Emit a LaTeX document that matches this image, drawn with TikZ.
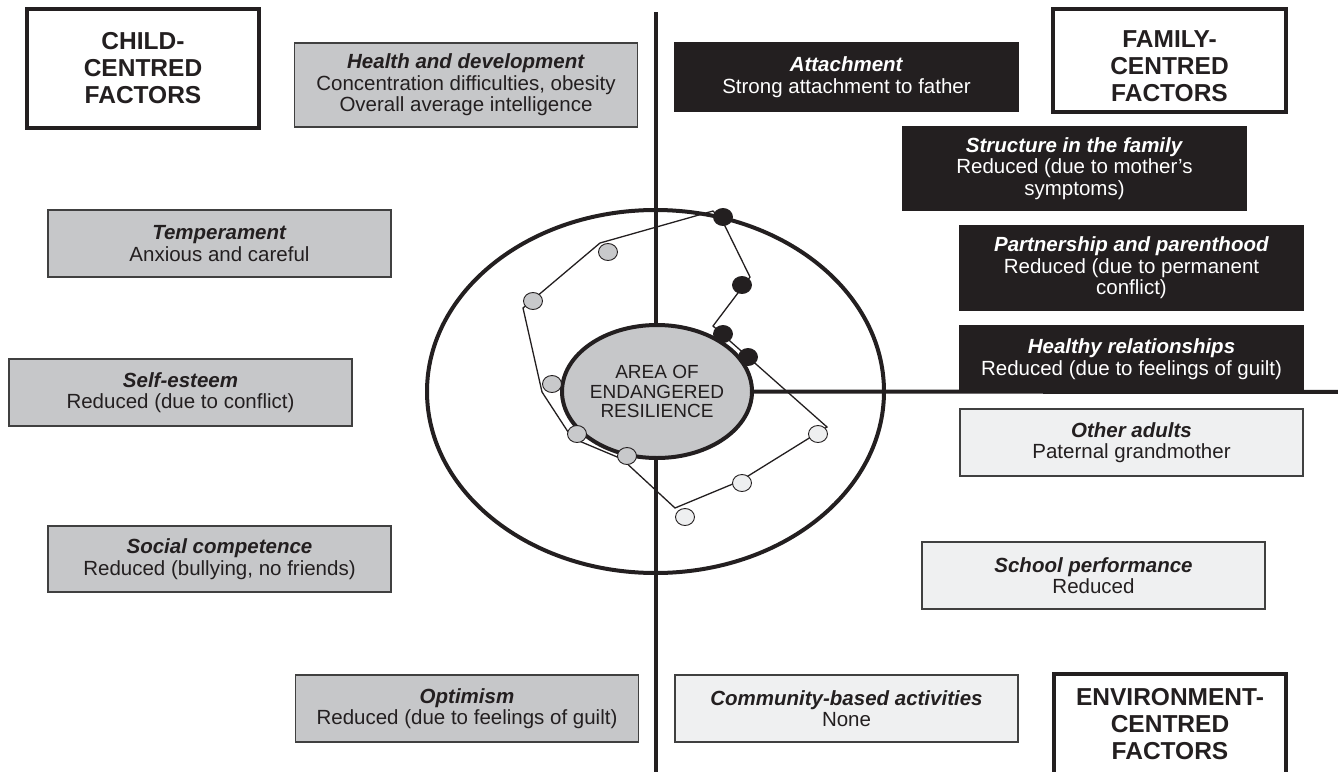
\documentclass[tikz,border=0pt]{standalone}
\usepackage{fontspec}
\setmainfont{Liberation Sans}
\usetikzlibrary{shapes.geometric}
\definecolor{ink}{HTML}{231F20}
\definecolor{boxgray}{HTML}{C6C7C9}
\definecolor{boxlight}{HTML}{EFF0F1}
\definecolor{edgegray}{HTML}{404040}
\definecolor{dotgray}{HTML}{C8C9CB}
\definecolor{dotlight}{HTML}{EEEFF0}
\newcommand\hd[1]{\textbf{\textit{#1}}}
\tikzset{
  infobox/.style={draw=edgegray, line width=1.4pt, inner sep=0pt, align=center, text=ink,
    font=\fontsize{20.5}{21.5}\selectfont, minimum width=343pt},
  graybox/.style={infobox, fill=boxgray},
  darkbox/.style={infobox, fill=ink, draw=ink, text=white},
  lightbox/.style={infobox, fill=boxlight},
  factorbox/.style={draw=ink, line width=4pt, fill=white, inner sep=0pt},
  factortext/.style={align=center, text=ink, inner sep=0pt, font=\fontsize{24.5}{27}\selectfont\bfseries},
  axisline/.style={draw=ink, line width=4pt},
  polyline/.style={draw=ink, line width=1.3pt, line join=miter},
  dot/.style={ellipse, draw=ink, line width=0.9pt, minimum width=19pt, minimum height=17pt, inner sep=0pt},
  graydot/.style={dot, fill=dotgray},
  blackdot/.style={dot, fill=ink},
  whitedot/.style={dot, fill=dotlight},
}
\begin{document}
\begin{tikzpicture}[x=1pt,y=-1pt]
\useasboundingbox (0,0) rectangle (1338,771);
\clip (0,0) rectangle (1338,771);

% axes
\coordinate (vtop) at (656,12);
\coordinate (vbot) at (656,780);
\coordinate (hend) at (1345,392);
\node[ellipse, draw=ink, line width=4pt, minimum width=457pt, minimum height=363pt, inner sep=0pt] (ring) at (655.5,391.5) {};
\draw[axisline] (vtop) -- (vbot);

% core
\node[ellipse, draw=ink, line width=4pt, fill=boxgray, minimum width=190pt, minimum height=133pt, inner sep=0pt,
  align=center, text=ink, font=\fontsize{19}{19.5}\selectfont] (core) at (657,391.5) {AREA OF\\ENDANGERED\\RESILIENCE};
\draw[axisline] (core.east) -- (hend);

% profile polygon
\coordinate (p1) at (713,211);
\coordinate (p2) at (600,243);
\coordinate (p3) at (523,308);
\coordinate (p4) at (542,392);
\coordinate (p5) at (572,438);
\coordinate (p6) at (622,459);
\coordinate (p7) at (675,508);
\coordinate (p8) at (740,481);
\coordinate (p9) at (827,427);
\coordinate (p10) at (713,326);
\coordinate (p11) at (750,277);
\coordinate (p12) at (722,220);
\draw[polyline] (p1) -- (p2) -- (p3) -- (p4) -- (p5) -- (p6) -- (p7) -- (p8) -- (p9) -- (p10) -- (p11) -- (p12) -- cycle;

% markers
\node[graydot] (g1) at (608,252) {};
\node[graydot] (g2) at (533,301) {};
\node[graydot] (g3) at (552,384) {};
\node[graydot] (g4) at (577,434) {};
\node[graydot] (g5) at (627,456) {};
\node[blackdot] (b1) at (723,217) {};
\node[blackdot] (b2) at (742,285) {};
\node[blackdot] (b3) at (723,334) {};
\node[blackdot] (b4) at (748,357) {};
\node[whitedot] (w1) at (818,434) {};
\node[whitedot] (w2) at (742,483) {};
\node[whitedot] (w3) at (685,517) {};

% child-centred boxes
\node[graybox, minimum height=84pt] (health) at (466,85) {\hd{Health and development}\\Concentration difficulties, obesity\\Overall average intelligence};
\node[graybox, minimum height=67pt] (temper) at (219.5,243.5) {\hd{Temperament}\\Anxious and careful};
\node[graybox, minimum height=67pt] (selfest) at (180.5,392.5) {\hd{Self-esteem}\\Reduced (due to conflict)};
\node[graybox, minimum height=66pt] (social) at (219.5,559) {\hd{Social competence}\\Reduced (bullying, no friends)};
\node[graybox, minimum height=67pt] (optim) at (467,708.5) {\hd{Optimism}\\Reduced (due to feelings of guilt)};

% family-centred boxes
\node[darkbox, minimum height=68pt] (attach) at (846.5,77) {\hd{Attachment}\\Strong attachment to father};
\node[darkbox, minimum height=83pt] (struct) at (1074.5,168.5) {\hd{Structure in the family}\\Reduced (due to mother’s\\symptoms)};
\node[darkbox, minimum height=84pt] (partner) at (1131.5,268) {\hd{Partnership and parenthood}\\Reduced (due to permanent\\conflict)};
\node[darkbox, minimum height=66pt] (healthy) at (1131.5,359) {\hd{Healthy relationships}\\Reduced (due to feelings of guilt)};

% environment-centred boxes
\node[lightbox, minimum height=67pt] (adults) at (1131.5,442.5) {\hd{Other adults}\\Paternal grandmother};
\node[lightbox, minimum height=67pt] (school) at (1093.5,575.5) {\hd{School performance}\\Reduced};
\node[lightbox, minimum height=67pt] (commun) at (846.5,708.5) {\hd{Community-based activities}\\None};

% factor boxes
\node[factorbox, minimum width=232pt, minimum height=119pt] (childbox) at (143,68.5) {};
\node[factortext] (childtext) at (143,68) {CHILD-\\CENTRED\\FACTORS};
\node[factorbox, minimum width=233pt, minimum height=103pt] (familybox) at (1169.5,60.5) {};
\node[factortext] (familytext) at (1169.5,66) {FAMILY-\\CENTRED\\FACTORS};
\node[factorbox, minimum width=232pt, minimum height=126pt] (envbox) at (1170,737) {};
\node[factortext] (envtext) at (1170,724) {ENVIRONMENT-\\CENTRED\\FACTORS};
\end{tikzpicture}
\end{document}
